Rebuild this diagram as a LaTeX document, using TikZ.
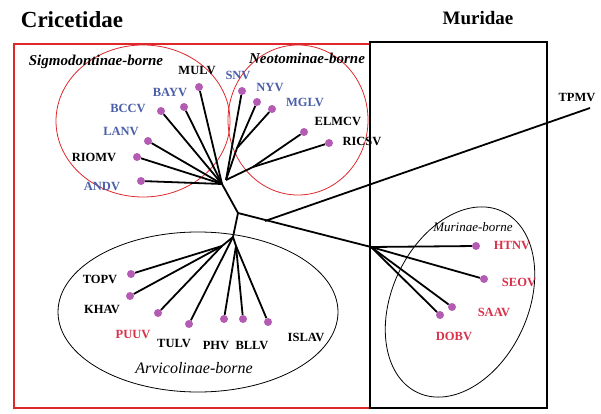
\documentclass[tikz,border=0pt]{standalone}
\usepackage{fontspec}
\setmainfont{Liberation Serif}
\begin{document}
\begin{tikzpicture}[x=1pt,y=-1pt,
  leaf/.style={circle,fill=dotc,inner sep=0pt,minimum size=8pt},
  lab/.style={font=\fontsize{12.5}{12.5}\selectfont\bfseries,inner sep=0pt},
  grp/.style={font=\fontsize{15}{15}\selectfont\bfseries\itshape,inner sep=0pt},
  br/.style={line width=1.8pt},
  title/.style={font=\fontsize{22}{22}\selectfont\bfseries,inner sep=0pt}]
\definecolor{dotc}{HTML}{B45CB4}
\definecolor{bl}{HTML}{4A5FA8}
\definecolor{rd}{HTML}{D9304A}
\definecolor{redbox}{HTML}{E0282C}
\useasboundingbox (0,0) rectangle (601,414);
% boxes
\draw[redbox,line width=2pt] (14,44) rectangle (370,408);
\draw[line width=2pt] (370,42) rectangle (547,408);
\node[title,font=\fontsize{23}{23}\selectfont\bfseries] (t1) at (72,20) {Cricetidae};
\node[title,font=\fontsize{19}{19}\selectfont\bfseries] (t2) at (478,18) {Muridae};
% ellipses
\draw[redbox,line width=0.8pt] (143,121) ellipse [x radius=87,y radius=76];
\draw[redbox,line width=0.8pt] (298,120) ellipse [x radius=70,y radius=75];
\draw[line width=0.8pt] (198,312) ellipse [x radius=140,y radius=80];
\draw[line width=0.8pt,rotate around={-25:(460,302)}] (460,302) ellipse [x radius=68,y radius=100];
% internal coordinates
\coordinate (hs) at (222,184);
\coordinate (hn) at (226,180);
\coordinate (na) at (237,148);
\coordinate (nb) at (253,167);
\coordinate (root) at (238,213);
\coordinate (tb) at (265,221);
\coordinate (ha) at (233,237);
\coordinate (aa) at (222,246);
\coordinate (ab) at (236,246);
\coordinate (hm) at (371,247);
\coordinate (tp) at (590,108);
% Sigmodontinae leaves
\node[leaf] (mulv) at (199,87) {};
\node[leaf] (bayv) at (184,107) {};
\node[leaf] (bccv) at (161,111) {};
\node[leaf] (lanv) at (148,141) {};
\node[leaf] (riomv) at (137,157) {};
\node[leaf] (andv) at (141,181) {};
\node[lab] at (197,71) {MULV};
\node[lab,bl] at (170,92) {BAYV};
\node[lab,bl] at (128,108) {BCCV};
\node[lab,bl] at (121,131) {LANV};
\node[lab] at (94,157) {RIOMV};
\node[lab,bl] at (102,186) {ANDV};
\node[grp] at (96,62) {Sigmodontinae-borne};
% Neotominae leaves
\node[leaf] (snv) at (242,91) {};
\node[leaf] (nyv) at (257,102) {};
\node[leaf] (mglv) at (272,109) {};
\node[leaf] (elmcv) at (304,132) {};
\node[leaf] (ricsv) at (329,143) {};
\node[lab,bl] at (238,75) {SNV};
\node[lab,bl] at (270,88) {NYV};
\node[lab,bl] at (305,102) {MGLV};
\node[lab] at (338,121) {ELMCV};
\node[lab] at (362,141) {RICSV};
\node[grp] at (307,58) {Neotominae-borne};
% Arvicolinae leaves
\node[leaf] (topv) at (131,274) {};
\node[leaf] (khav) at (130,296) {};
\node[leaf] (puuv) at (158,313) {};
\node[leaf] (tulv) at (189,324) {};
\node[leaf] (phv) at (224,319) {};
\node[leaf] (bllv) at (243,319) {};
\node[leaf] (islav) at (268,322) {};
\node[lab] at (100,279) {TOPV};
\node[lab] at (102,309) {KHAV};
\node[lab,rd] at (133,334) {PUUV};
\node[lab] at (174,343) {TULV};
\node[lab] at (216,345) {PHV};
\node[lab] at (252,345) {BLLV};
\node[lab] at (306,337) {ISLAV};
\node[grp,font=\fontsize{16}{16}\selectfont\itshape] at (194,368) {Arvicolinae-borne};
% Murinae leaves
\node[leaf] (htnv) at (476,246) {};
\node[leaf] (seov) at (484,279) {};
\node[leaf] (saav) at (452,307) {};
\node[leaf] (dobv) at (440,315) {};
\node[lab,rd] at (512,246) {HTNV};
\node[lab,rd] at (519,282) {SEOV};
\node[lab,rd] at (494,312) {SAAV};
\node[lab,rd] at (454,336) {DOBV};
\node[grp,font=\fontsize{13}{13}\selectfont\itshape] at (473,227) {Murinae-borne};
\node[lab] at (577,98) {TPMV};
% branches
\draw[br] (mulv) -- (hs);
\draw[br] (bayv) -- (hs);
\draw[br] (bccv) -- (hs);
\draw[br] (lanv) -- (hs);
\draw[br] (riomv) -- (hs);
\draw[br] (andv) -- (hs);
\draw[br] (snv) -- (hn);
\draw[br] (nyv) -- (na);
\draw[br] (mglv) -- (na);
\draw[br] (na) -- (hn);
\draw[br] (elmcv) -- (nb);
\draw[br] (ricsv) -- (nb);
\draw[br] (nb) -- (hn);
\draw[br] (hs) -- (root);
\draw[br] (root) -- (ha);
\draw[br] (root) -- (hm);
\draw[br] (tb) -- (tp);
\draw[br] (ha) -- (aa);
\draw[br] (ha) -- (ab);
\draw[br] (topv) -- (aa);
\draw[br] (khav) -- (aa);
\draw[br] (puuv) -- (aa);
\draw[br] (tulv) -- (ha);
\draw[br] (phv) -- (ab);
\draw[br] (bllv) -- (ab);
\draw[br] (islav) -- (ab);
\draw[br] (htnv) -- (hm);
\draw[br] (seov) -- (hm);
\draw[br] (saav) -- (hm);
\draw[br] (dobv) -- (hm);
\end{tikzpicture}
\end{document}
